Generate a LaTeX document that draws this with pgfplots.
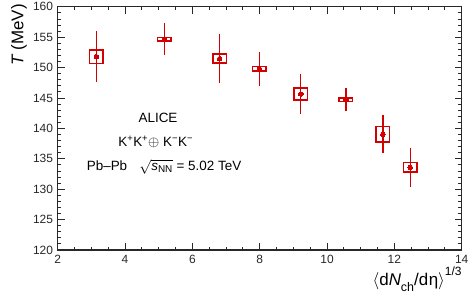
\documentclass[border=0pt]{standalone}
\usepackage{pgfplots}
\pgfplotsset{compat=1.18}
\usepackage{fontspec}
\setmainfont{Liberation Sans}
\definecolor{aliceRed}{RGB}{210,0,0}
\definecolor{frame}{RGB}{40,40,40}

\pgfplotstableread{
x y ep em
3.15 151.80 4.30 4.20
5.17 154.65 2.65 2.65
6.81 151.47 4.00 4.00
7.99 149.77 2.75 2.85
9.22 145.66 3.30 3.30
10.56 144.72 1.90 1.90
11.66 139.03 3.10 3.10
12.47 133.60 3.10 3.20
}\datatable

\pgfplotstableread{
x y
2.95 150.70
3.35 150.70
3.35 152.90
2.95 152.90
2.95 150.70
3.35 150.70
nan nan
4.97 154.35
5.37 154.35
5.37 154.95
4.97 154.95
4.97 154.35
5.37 154.35
nan nan
6.61 150.75
7.01 150.75
7.01 152.20
6.61 152.20
6.61 150.75
7.01 150.75
nan nan
7.79 149.40
8.19 149.40
8.19 150.15
7.79 150.15
7.79 149.40
8.19 149.40
nan nan
9.02 144.70
9.42 144.70
9.42 146.62
9.02 146.62
9.02 144.70
9.42 144.70
nan nan
10.36 144.42
10.76 144.42
10.76 145.02
10.36 145.02
10.36 144.42
10.76 144.42
nan nan
11.46 137.75
11.86 137.75
11.86 140.31
11.46 140.31
11.46 137.75
11.86 137.75
nan nan
12.27 132.82
12.67 132.82
12.67 134.38
12.27 134.38
12.27 132.82
12.67 132.82
}\boxtable

\begin{document}
\fontsize{12}{14}\selectfont
\begin{tikzpicture}
\begin{axis}[
  at={(0,0)}, anchor=south west,
  scale only axis, width=404bp, height=243.2bp,
  xmin=2, xmax=14, ymin=120, ymax=160,
  xtick={2,4,...,14}, ytick={120,125,...,160},
  minor x tick num=3, minor y tick num=4,
  tick align=inside, major tick length=7bp, minor tick length=3.5bp,
  axis line style={line width=1.1pt, frame},
  every tick/.style={line width=0.9pt, frame},
  /pgf/number format/assume math mode=true,
  ticklabel style={font=\fontsize{12}{14}\selectfont, text=frame},
  xticklabel style={yshift=-1bp},
  yticklabel style={xshift=-0.5bp},
  xlabel={$\langle$d\textit{N}\raisebox{-0.4em}{\fontsize{12.5}{12.5}\selectfont ch}/d\kern0.5pt η$\rangle$\raisebox{0.55em}{\fontsize{12}{12}\selectfont 1/3}},
  xlabel style={at={(axis description cs:1,0)}, anchor=base east, yshift=-35bp, font=\fontsize{17}{19}\selectfont, inner sep=0pt},
  ylabel={\itshape T\upshape\ (MeV)},
  ylabel style={at={(axis description cs:0,1)}, anchor=base east, xshift=2.8bp, yshift=34.4bp, font=\fontsize{17}{19}\selectfont, inner sep=0pt},
  clip=false,
]
\addplot[aliceRed, line width=1.6bp, line join=miter, unbounded coords=jump, mark=none] table[x=x, y=y] {\boxtable};
\addplot[aliceRed, line width=1.3bp, only marks, mark=*, mark size=2.3bp,
  mark options={fill=aliceRed, draw=aliceRed, line width=0pt},
  error bars/.cd, y dir=both, y explicit, error mark=none,
  error bar style={aliceRed, line width=1.3bp}]
  table[x=x, y=y, y error plus=ep, y error minus=em] {\datatable};
\node[anchor=center, font=\fontsize{13.5}{15}\selectfont] at (axis cs:4.98,141.76) {ALICE};
\node[anchor=center, font=\fontsize{13.5}{15}\selectfont] at (axis cs:4.91,137.8) {K\textsuperscript{+}K\textsuperscript{+}$\oplus$ K\textsuperscript{−}K\textsuperscript{−}};
\node[anchor=west, inner sep=0pt, font=\fontsize{13.5}{15}\selectfont] at (axis cs:2.86,133.7) {Pb–Pb\hspace{0.9em}$\sqrt{\mbox{\itshape s}_{\mbox{\fontsize{10}{10}\selectfont NN}}}$ = 5.02 TeV};
\end{axis}
\pgfresetboundingbox
\path (-57.7bp,-56bp) rectangle (418.3bp,250bp);
\end{tikzpicture}
\end{document}
